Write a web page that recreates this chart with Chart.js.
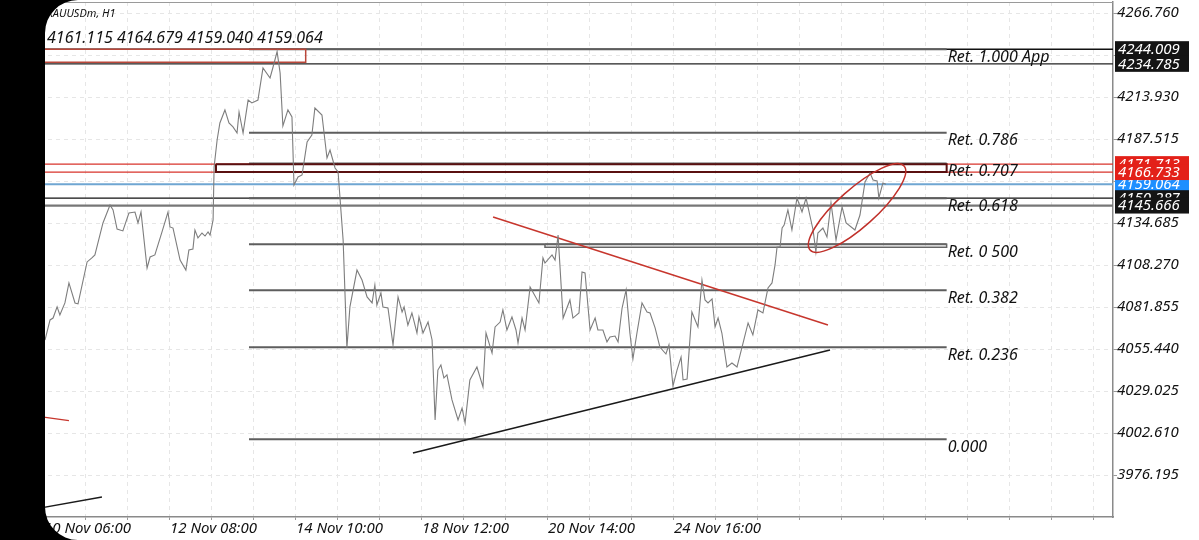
<!DOCTYPE html>
<html><head><meta charset="utf-8">
<script src="https://cdn.jsdelivr.net/npm/chart.js@4.4.0/dist/chart.umd.min.js"></script>
<style>html,body{margin:0;padding:0;background:#fff;overflow:hidden}canvas{display:block}</style>
</head><body>
<canvas id="c" width="1199" height="540" style="width:1199px;height:540px"></canvas>
<script>
const FONT = "'Noto Sans', 'DejaVu Sans', sans-serif";

// H1 close path: bar index counted from 10 Nov 06:00, close price
const barIdx = [0.4,2.4,3.6,5.2,6.3,8.3,9.9,12.3,13.5,17.1,19.0,20.2,23.4,26.2,27.4,29.0,31.3,33.7,36.1,37.3,38.5,40.9,42.1,44.0,46.8,49.2,50.0,51.2,54.0,56.3,57.5,59.1,59.9,61.1,62.7,63.9,65.1,65.9,67.1,67.5,68.7,69.8,71.8,73.4,75.0,76.6,77.4,79.0,81.0,82.5,84.9,86.9,89.7,90.9,92.5,93.7,94.8,96.8,98.4,99.2,100.8,102.4,104.4,106.3,107.5,110.3,112.3,113.5,115.5,116.7,118.7,120.2,121.4,124.2,126.2,128.2,130.2,131.3,132.1,133.7,134.5,136.5,138.5,140.5,142.1,142.9,144.4,146.0,148.0,148.8,150.4,152.4,154.0,155.2,156.3,157.5,158.7,159.9,161.9,164.3,165.9,167.1,169.0,171.8,174.2,175.4,177.8,179.0,181.0,182.1,183.7,185.7,187.3,188.1,189.7,190.9,192.9,196.4,198.0,198.8,201.6,202.8,204.0,206.0,208.7,209.9,212.3,213.5,214.7,216.7,218.7,219.8,221.8,223.4,224.6,226.6,227.8,229.4,231.0,232.5,233.7,235.3,237.3,239.3,240.5,242.5,244.4,246.8,248.0,249.6,251.2,252.8,253.6,255.2,257.1,259.5,261.1,262.3,263.5,265.1,266.3,267.5,269.0,271.0,273.0,275.0,277.4,279.4,281.3,283.3,285.3,287.3,288.9,290.1,290.9,292.1,292.9,293.7,295.2,296.8,298.8,300.8,302.4,305.2,306.3,307.1,309.1,310.7,312.3,314.3,316.7,318.3,321.8,323.8,325.8,327.8,329.0,330.6,331.3,332.9,334.1];
const closes = [4061.1,4073.7,4074.9,4081.9,4076.8,4084.4,4097.0,4084.4,4083.8,4110.2,4112.7,4114.6,4134.7,4146.0,4142.9,4130.9,4129.7,4141.0,4141.6,4134.7,4141.6,4106.4,4113.3,4114.6,4129.0,4141.6,4132.2,4131.5,4111.4,4105.1,4117.7,4118.3,4130.3,4125.3,4128.4,4126.5,4129.0,4127.1,4136.6,4169.9,4186.9,4197.6,4205.8,4197.6,4195.1,4191.3,4204.5,4191.3,4212.0,4210.2,4212.0,4232.2,4225.9,4232.8,4242.5,4229.0,4195.7,4205.8,4201.4,4158.6,4163.6,4164.9,4185.6,4190.0,4207.0,4202.6,4175.6,4180.6,4169.3,4166.8,4124.0,4056.1,4081.9,4105.1,4098.8,4088.2,4084.4,4095.7,4083.1,4090.7,4081.9,4081.2,4058.0,4088.2,4078.7,4081.9,4070.5,4078.1,4065.5,4075.6,4065.5,4072.4,4061.1,4010.8,4042.2,4045.4,4037.2,4039.1,4023.4,4010.8,4018.3,4008.9,4036.0,4044.1,4031.6,4065.5,4052.9,4069.3,4072.4,4080.0,4067.4,4075.6,4067.4,4059.2,4074.9,4067.4,4094.4,4084.4,4112.7,4109.5,4114.6,4111.4,4127.1,4074.9,4086.3,4074.9,4078.1,4103.9,4103.3,4067.4,4074.9,4067.4,4067.4,4059.9,4063.0,4063.6,4059.9,4081.2,4092.6,4065.5,4049.2,4065.5,4084.4,4078.7,4078.1,4068.7,4056.7,4052.3,4058.0,4032.2,4042.2,4050.4,4036.0,4036.6,4078.7,4069.3,4098.8,4086.3,4084.4,4086.9,4069.3,4074.9,4065.5,4044.1,4046.6,4044.1,4059.2,4071.8,4064.3,4080.0,4078.1,4093.8,4097.0,4108.3,4119.6,4119.6,4131.5,4133.4,4142.9,4130.3,4150.4,4141.6,4150.4,4130.3,4116.5,4128.4,4131.5,4125.9,4147.3,4124.0,4144.8,4134.7,4130.3,4139.7,4160.5,4166.1,4161.7,4161.1,4150.4,4159.8,4159.064];

const yTicks = [3976.195,4002.610,4029.025,4055.440,4081.855,4108.270,4134.685,4161.100,4187.515,4213.930,4240.345,4266.760];
const xTickBars = [0,50,100,150,200,250];
const xTickLabels = ['10 Nov 06:00','12 Nov 08:00','14 Nov 10:00','18 Nov 12:00','20 Nov 14:00','24 Nov 16:00'];
const xGridPerLabel = 3;
const yMin = 3949.78, yMax = 4273.68;
const xMin = -17.46, xMax = 424.21;

const headerSymbol = 'XAUUSDm, H1';
const headerOHLC = ['4161.115','4164.679','4159.040','4159.064'];

// Fibonacci retracement
const fibStartBar = 81.35, fibEndBar = 358.2;
const fibLow = 3998.66, fibHigh = 4244.009;
const fibRatios = [0, 0.236, 0.382, 0.5, 0.618, 0.707, 0.786, 1.0];
const fibNames = ['0.000','Ret. 0.236','Ret. 0.382','Ret. 0 500','Ret. 0.618','Ret. 0.707','Ret. 0.786','Ret. 1.000 App'];

// full-width horizontal lines
const hLinePrices = [4244.009, 4234.785, 4171.713, 4166.733, 4159.064, 4150.287, 4145.666];
const hLineColors = ['#111111','#222222','#d8332b','#d8332b','#6fa6d2','#111111','#777777'];
const hLineWidths = [1.5, 1.2, 1.2, 1.2, 2.2, 1.2, 2.2];

// price tags on the axis (drawn in this order)
const tagPrices = [4159.064, 4171.713, 4166.733, 4150.287, 4145.666, 4244.009, 4234.785];
const tagColors = ['#1e8fff','#e32119','#e32119','#141414','#141414','#141414','#141414'];

// trendlines
const redTrendBars = [178.2, 311.1], redTrendPrices = [4138.46, 4070.53];
const blackTrendBars = [146.4, 311.9], blackTrendPrices = [3990.03, 4054.81];
const lowTrendBars = [-9.5, 23.0], lowTrendPrices = [3953.11, 3962.36];
const redStubBars = [-9.5, 9.9], redStubPrices = [4014.68, 4010.34];

// zones (rectangles)
const topZoneBars = [-20, 103.85], topZonePrices = [4244.009, 4235.75];
const midZoneBars = [68.25, 358.2], midZonePrices = [4171.713, 4166.733];
const halfZoneBars = [198.8, 358.2], halfZonePrices = [4121.3, 4119.4];

// ellipse (major axis end points) and minor/major ratio
const ellBars = [304.0, 341.3], ellPrices = [4117.70, 4170.53];
const ellRatio = 0.3;

function seg(bars, prices, color, width, order) {
  return { data: bars.map((b,k)=>({x:b,y:prices[k]})), borderColor: color, borderWidth: width,
           pointRadius: 0, fill: false, tension: 0, order: order||5 };
}
function rect(bars, prices, color, width, order) {
  const pts = [[bars[0],prices[0]],[bars[1],prices[0]],[bars[1],prices[1]],[bars[0],prices[1]],[bars[0],prices[0]]];
  return { data: pts.map(p=>({x:p[0],y:p[1]})), borderColor: color, borderWidth: width,
           pointRadius: 0, fill: false, tension: 0, order: order||5 };
}

const datasets = [];
datasets.push({ data: barIdx.map((b,k)=>({x:b,y:closes[k]})), borderColor:'#7d7d7d', borderWidth:1.1,
                pointRadius:0, fill:false, tension:0, order:1 });
hLinePrices.forEach((p,k)=> datasets.push(seg([xMin,xMax],[p,p],hLineColors[k],hLineWidths[k],6)));
fibRatios.forEach(r=>{ const p = fibLow + r*(fibHigh-fibLow); datasets.push(seg([fibStartBar,fibEndBar],[p,p],'#5e5e5e',2,4)); });
datasets.push(rect(topZoneBars, topZonePrices, '#b9473a', 1.5, 3));
datasets.push(rect(midZoneBars, midZonePrices, '#5a1010', 2, 3));
datasets.push(rect(halfZoneBars, halfZonePrices, '#666666', 1.5, 3));
datasets.push(seg(redTrendBars, redTrendPrices, '#c7362d', 1.5, 2));
datasets.push(seg(blackTrendBars, blackTrendPrices, '#1a1a1a', 1.5, 2));
datasets.push(seg(lowTrendBars, lowTrendPrices, '#1a1a1a', 1.3, 2));
datasets.push(seg(redStubBars, redStubPrices, '#c7362d', 1.3, 2));

const gridBars = [];
for (let k = -1; k * (50/xGridPerLabel) <= xMax; k++) gridBars.push(k * 50 / xGridPerLabel);

const overlay = {
  id: 'overlay',
  afterDraw(chart) {
    const {ctx, chartArea: a, scales: {x, y}} = chart;
    ctx.save();
    // top border of plot
    ctx.strokeStyle = '#9a9a9a'; ctx.lineWidth = 1.2;
    ctx.beginPath(); ctx.moveTo(a.left, a.top + 0.5); ctx.lineTo(a.right, a.top + 0.5); ctx.stroke();
    // ellipse
    const x1 = x.getPixelForValue(ellBars[0]), y1 = y.getPixelForValue(ellPrices[0]);
    const x2 = x.getPixelForValue(ellBars[1]), y2 = y.getPixelForValue(ellPrices[1]);
    const rx = Math.hypot(x2-x1, y2-y1)/2;
    ctx.strokeStyle = '#c0302a'; ctx.lineWidth = 1.5;
    ctx.beginPath(); ctx.ellipse((x1+x2)/2, (y1+y2)/2, rx, rx*ellRatio, Math.atan2(y2-y1, x2-x1), 0, Math.PI*2); ctx.stroke();
    // fib labels
    ctx.font = 'italic 16px ' + FONT; ctx.fillStyle = '#111'; ctx.textAlign = 'left'; ctx.textBaseline = 'middle';
    const fx = x.getPixelForValue(fibEndBar) + 1;
    fibRatios.forEach((r,k)=>{ const p = fibLow + r*(fibHigh-fibLow); ctx.fillText(fibNames[k], fx, y.getPixelForValue(p) + 8); });
    // header
    ctx.font = 'italic 11px ' + FONT; ctx.fillText(headerSymbol, 47, 14);
    ctx.font = 'italic 16px ' + FONT; ctx.fillText(headerOHLC.join(' '), 47, 38);
    // price tags
    ctx.font = 'italic 15px ' + FONT;
    tagPrices.forEach((p,k)=>{
      const py = y.getPixelForValue(p);
      ctx.fillStyle = tagColors[k]; ctx.fillRect(a.right + 2, py - 8, 74, 16);
      ctx.save(); ctx.beginPath(); ctx.rect(a.right + 2, py - 8, 74, 16); ctx.clip();
      ctx.fillStyle = '#fff'; ctx.fillText(p.toFixed(3), a.right + 5, py + 0.5);
      ctx.restore();
    });
    // phone frame on the left
    const L = 45, R = 33, H = chart.height;
    ctx.fillStyle = '#000';
    ctx.beginPath(); ctx.moveTo(0,0); ctx.lineTo(L+R,0); ctx.arcTo(L,0,L,R,R); ctx.lineTo(L,H-R);
    ctx.arcTo(L,H,L+R,H,R); ctx.lineTo(0,H); ctx.closePath(); ctx.fill();
    ctx.restore();
  }
};

new Chart(document.getElementById('c'), {
  type: 'line',
  data: { datasets },
  options: {
    responsive: false, animation: false, events: [],
    layout: { padding: { top: 2, left: 0, right: 0, bottom: 0 } },
    plugins: { legend: { display: false }, tooltip: { enabled: false } },
    scales: {
      x: {
        type: 'linear', min: xMin, max: xMax,
        afterBuildTicks: s => { s.ticks = gridBars.map(v=>({value:v})); },
        afterFit: s => { s.height = 23; s.paddingLeft = 0; s.paddingRight = 0; },
        ticks: {
          autoSkip: false, maxRotation: 0, align: 'start', padding: 0, color: '#111',
          font: { family: FONT, size: 15, style: 'italic' },
          callback: v => { const k = xTickBars.findIndex(b => Math.abs(b - v) < 0.01); return k >= 0 ? xTickLabels[k] : ''; }
        },
        grid: { color: '#e6e6e6', lineWidth: 1, tickLength: 3, tickColor: '#999' },
        border: { color: '#8a8a8a', width: 1.5, dash: [4, 4] }
      },
      y: {
        type: 'linear', position: 'right', min: yMin, max: yMax,
        afterBuildTicks: s => { s.ticks = yTicks.map(v=>({value:v})); },
        afterFit: s => { s.width = 86; s.paddingTop = 0; s.paddingBottom = 0; },
        ticks: {
          padding: 0, color: '#111', font: { family: FONT, size: 15, style: 'italic' },
          callback: v => v.toFixed(3)
        },
        grid: { color: '#e6e6e6', lineWidth: 1, tickLength: 4, tickColor: '#999' },
        border: { color: '#8a8a8a', width: 1.5, dash: [4, 4] }
      }
    }
  },
  plugins: [overlay]
});
</script>
</body></html>
